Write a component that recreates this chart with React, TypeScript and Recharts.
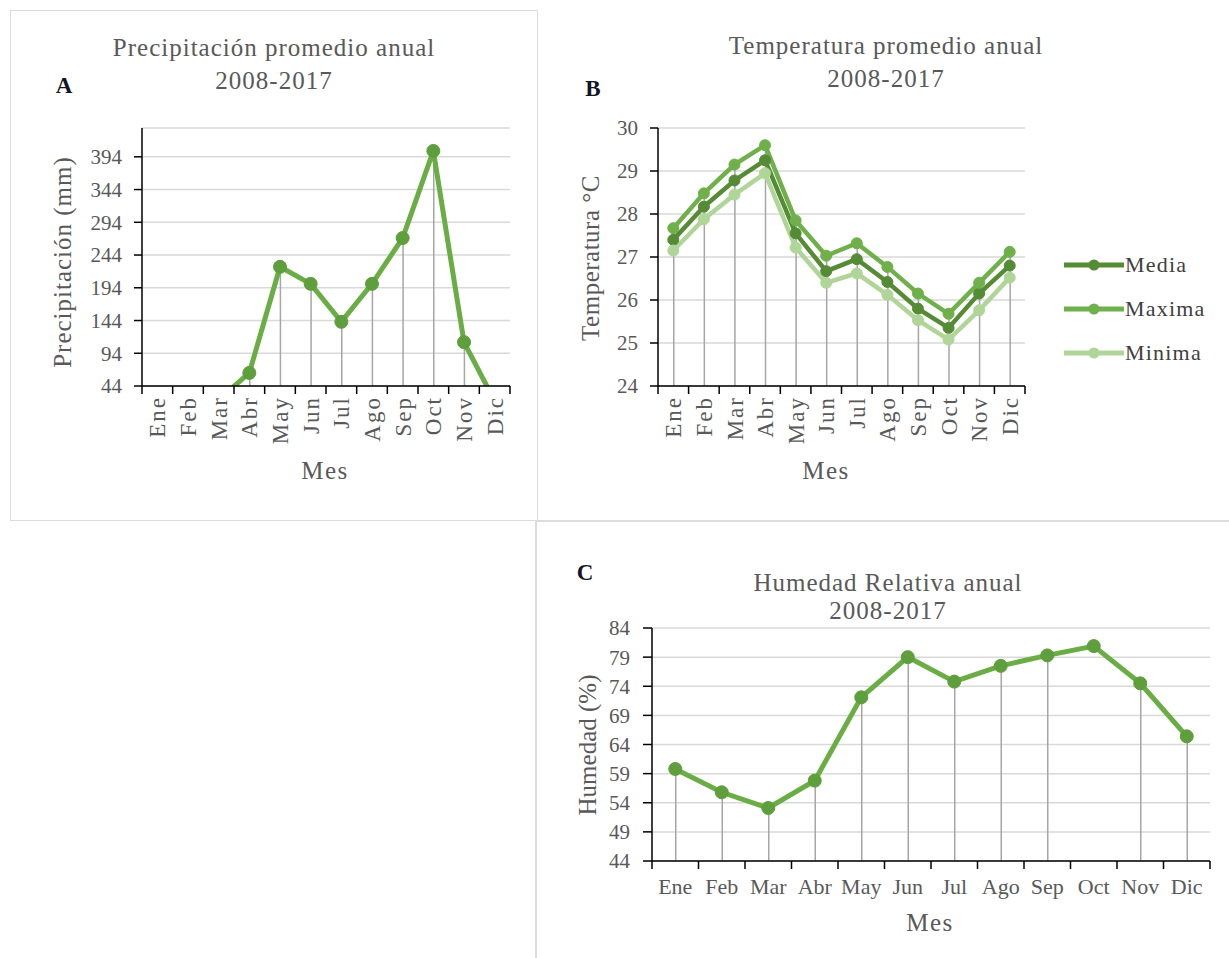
import React from 'react';
import { ComposedChart, Line, Bar, XAxis, YAxis, CartesianGrid } from 'recharts';

// ---------- data ----------
const months = ['Ene', 'Feb', 'Mar', 'Abr', 'May', 'Jun', 'Jul', 'Ago', 'Sep', 'Oct', 'Nov', 'Dic'];

const precipitacion = [15, 12, 23, 64, 226, 200, 142, 200, 270, 403, 111, 21];
const precipTicks = [44, 94, 144, 194, 244, 294, 344, 394];
const precipMax = 438;

const tempMedia = [27.4, 28.17, 28.78, 29.25, 27.55, 26.67, 26.95, 26.42, 25.8, 25.35, 26.15, 26.8];
const tempMaxima = [27.67, 28.48, 29.15, 29.6, 27.85, 27.03, 27.32, 26.77, 26.15, 25.68, 26.4, 27.12];
const tempMinima = [27.15, 27.88, 28.45, 28.95, 27.22, 26.4, 26.62, 26.12, 25.53, 25.08, 25.76, 26.52];
const tempTicks = [24, 25, 26, 27, 28, 29, 30];

const humedad = [59.8, 55.8, 53.1, 57.8, 72.1, 79.0, 74.8, 77.5, 79.3, 80.9, 74.5, 65.4];
const humedadTicks = [44, 49, 54, 59, 64, 69, 74, 79, 84];
const humedadSinLinea = ['Oct'];

const tempSeries = [
  { key: 'media', name: 'Media', values: tempMedia, color: '#558b35' },
  { key: 'maxima', name: 'Maxima', values: tempMaxima, color: '#6fb04a' },
  { key: 'minima', name: 'Minima', values: tempMinima, color: '#b0d598' },
];

// ---------- derived tables ----------
const dataA = months.map((m, i) => ({
  mes: m,
  precip: precipitacion[i],
  caida: precipitacion[i] >= precipTicks[0] ? precipitacion[i] : null,
}));

const dataB = months.map((m, i) => {
  const row: any = { mes: m, caida: tempMaxima[i] };
  tempSeries.forEach((s) => (row[s.key] = s.values[i]));
  return row;
});

const dataC = months.map((m, i) => ({
  mes: m,
  hum: humedad[i],
  caida: humedadSinLinea.includes(m) ? null : humedad[i],
}));

// ---------- styling ----------
const FONT = '"Liberation Serif", "Times New Roman", serif';
const TEXT = '#595959';
const GRID = '#d9d9d9';
const DROP = '#a6a6a6';
const LINE_GREEN = '#6aad45';
const DOT_GREEN = '#5e9e3c';

function MonthTick(props: any) {
  const { x, y, payload, band, rotated } = props;
  const half = band / 2;
  const idx = months.indexOf(payload.value);
  const isLast = idx === months.length - 1;
  return (
    <g>
      <line x1={x - half} x2={x - half} y1={y} y2={y + 8} stroke="#000" strokeWidth={1.5} />
      {isLast && <line x1={x + half} x2={x + half} y1={y} y2={y + 8} stroke="#000" strokeWidth={1.5} />}
      {rotated ? (
        <text
          transform={`translate(${x},${y + 10}) rotate(-90)`}
          textAnchor="end"
          dy="0.35em"
          fill={TEXT}
          fontSize={23}
          fontFamily={FONT}
          letterSpacing={2}
        >
          {payload.value}
        </text>
      ) : (
        <text x={x} y={y + 33} textAnchor="middle" fill={TEXT} fontSize={22} fontFamily={FONT}>
          {payload.value}
        </text>
      )}
    </g>
  );
}

const yTickStyle = { fill: TEXT, fontSize: 21, fontFamily: FONT };
const axisLineStyle = { stroke: '#000', strokeWidth: 1.5 };

function CenterText({ x, y, size = 25, children, bold = false, color = TEXT, spacing = 1, rotate = false }: any) {
  return (
    <div
      style={{
        position: 'absolute',
        left: x,
        top: y,
        transform: `translate(-50%, -50%)${rotate ? ' rotate(-90deg)' : ''}`,
        whiteSpace: 'nowrap',
        fontFamily: FONT,
        fontSize: size,
        fontWeight: bold ? 'bold' : 'normal',
        color,
        letterSpacing: spacing,
        lineHeight: 1,
      }}
    >
      {children}
    </div>
  );
}

// layout constants
const A = { w: 537, h: 520, m: { top: 128, right: 27, bottom: 44, left: 82 } };
const B = { left: 537, w: 692, h: 520, m: { top: 128, right: 204, bottom: 44, left: 61 } };
const C = { left: 537, top: 521, w: 692, h: 437, m: { top: 107, right: 19, bottom: 57, left: 55 } };
const YW = 60;
const bandOf = (c: any) => (c.w - c.m.left - c.m.right - YW) / months.length;

export default function App() {
  const bandA = bandOf(A);
  const bandB = bandOf(B);
  const bandC = bandOf(C);
  return (
    <div
      style={{
        position: 'absolute',
        left: 0,
        top: 0,
        width: 1229,
        height: 958,
        background: '#fff',
        overflow: 'hidden',
      }}
    >
      {/* borders */}
      <div style={{ position: 'absolute', left: 10, top: 10, width: 526, height: 509, border: '1.5px solid #dcdcdc' }} />
      <div style={{ position: 'absolute', left: 536, top: 520, width: 693, height: 0, borderTop: '2px solid #dcdcdc' }} />
      <div style={{ position: 'absolute', left: 535, top: 520, width: 0, height: 438, borderLeft: '2px solid #dcdcdc' }} />

      {/* Panel A */}
      <div style={{ position: 'absolute', left: 0, top: 0 }}>
        <ComposedChart width={A.w} height={A.h} data={dataA} margin={A.m}>
          <CartesianGrid vertical={false} stroke={GRID} strokeWidth={1.5} />
          <XAxis
            dataKey="mes"
            interval={0}
            height={90}
            tickSize={0}
            tickMargin={0}
            tickLine={false}
            axisLine={axisLineStyle}
            tick={(p: any) => <MonthTick {...p} band={bandA} rotated />}
          />
          <YAxis
            type="number"
            width={YW}
            domain={[precipTicks[0], precipMax]}
            ticks={precipTicks}
            interval={0}
            allowDataOverflow
            tickSize={8}
            tickMargin={12}
            tickLine={axisLineStyle}
            axisLine={axisLineStyle}
            tick={yTickStyle}
          />
          <Bar dataKey="caida" barSize={1.5} fill={DROP} isAnimationActive={false} />
          <Line
            type="linear"
            dataKey="precip"
            stroke={LINE_GREEN}
            strokeWidth={5}
            dot={{ r: 6.5, fill: DOT_GREEN, stroke: DOT_GREEN, strokeWidth: 1 }}
            activeDot={false}
            isAnimationActive={false}
          />
        </ComposedChart>
      </div>
      <CenterText x={274} y={47}>Precipitación promedio anual</CenterText>
      <CenterText x={274} y={80}>2008-2017</CenterText>
      <CenterText x={64} y={85} size={23} bold color="#141428" spacing={0}>A</CenterText>
      <CenterText x={62} y={262} rotate>Precipitación (mm)</CenterText>
      <CenterText x={325} y={470} spacing={1.5}>Mes</CenterText>

      {/* Panel B */}
      <div style={{ position: 'absolute', left: B.left, top: 0 }}>
        <ComposedChart width={B.w} height={B.h} data={dataB} margin={B.m}>
          <CartesianGrid vertical={false} stroke={GRID} strokeWidth={1.5} />
          <XAxis
            dataKey="mes"
            interval={0}
            height={90}
            tickSize={0}
            tickMargin={0}
            tickLine={false}
            axisLine={axisLineStyle}
            tick={(p: any) => <MonthTick {...p} band={bandB} rotated />}
          />
          <YAxis
            type="number"
            width={YW}
            domain={[tempTicks[0], tempTicks[tempTicks.length - 1]]}
            ticks={tempTicks}
            interval={0}
            tickSize={8}
            tickMargin={12}
            tickLine={axisLineStyle}
            axisLine={axisLineStyle}
            tick={yTickStyle}
          />
          {tempSeries.map((s) => (
            <Line
              key={s.key}
              type="linear"
              dataKey={s.key}
              name={s.name}
              stroke={s.color}
              strokeWidth={4.5}
              dot={{ r: 5.5, fill: s.color, stroke: s.color, strokeWidth: 1 }}
              activeDot={false}
              isAnimationActive={false}
            />
          ))}
          <Bar dataKey="caida" barSize={1.5} fill={DROP} isAnimationActive={false} />
        </ComposedChart>
      </div>
      <CenterText x={886} y={45}>Temperatura promedio anual</CenterText>
      <CenterText x={886} y={78}>2008-2017</CenterText>
      <CenterText x={593} y={88} size={23} bold color="#141428" spacing={0}>B</CenterText>
      <CenterText x={590} y={258} rotate spacing={0.5}>Temperatura °C</CenterText>
      <CenterText x={826} y={470} spacing={1.5}>Mes</CenterText>

      {/* Legend B */}
      {tempSeries.map((s, i) => (
        <div
          key={s.key}
          style={{ position: 'absolute', left: 1064, top: 253 + i * 44, height: 24, display: 'flex', alignItems: 'center' }}
        >
          <svg width={60} height={14} style={{ display: 'block' }}>
            <line x1={0} x2={60} y1={7} y2={7} stroke={s.color} strokeWidth={5} />
            <circle cx={30} cy={7} r={5.5} fill={s.color} />
          </svg>
          <span style={{ fontFamily: FONT, fontSize: 22, color: '#404040', letterSpacing: 1.2, marginLeft: 1 }}>
            {s.name}
          </span>
        </div>
      ))}

      {/* Panel C */}
      <div style={{ position: 'absolute', left: C.left, top: C.top }}>
        <ComposedChart width={C.w} height={C.h} data={dataC} margin={C.m}>
          <CartesianGrid vertical={false} stroke={GRID} strokeWidth={1.5} />
          <XAxis
            dataKey="mes"
            interval={0}
            height={40}
            tickSize={0}
            tickMargin={0}
            tickLine={false}
            axisLine={axisLineStyle}
            tick={(p: any) => <MonthTick {...p} band={bandC} />}
          />
          <YAxis
            type="number"
            width={YW}
            domain={[humedadTicks[0], humedadTicks[humedadTicks.length - 1]]}
            ticks={humedadTicks}
            interval={0}
            tickSize={9}
            tickMargin={13}
            tickLine={axisLineStyle}
            axisLine={axisLineStyle}
            tick={yTickStyle}
          />
          <Bar dataKey="caida" barSize={1.5} fill={DROP} isAnimationActive={false} />
          <Line
            type="linear"
            dataKey="hum"
            stroke={LINE_GREEN}
            strokeWidth={5}
            dot={{ r: 6.5, fill: DOT_GREEN, stroke: DOT_GREEN, strokeWidth: 1 }}
            activeDot={false}
            isAnimationActive={false}
          />
        </ComposedChart>
      </div>
      <CenterText x={888} y={582}>Humedad Relativa anual</CenterText>
      <CenterText x={888} y={610}>2008-2017</CenterText>
      <CenterText x={585} y={572} size={23} bold color="#141428" spacing={0}>C</CenterText>
      <CenterText x={587} y={745} rotate spacing={0}>Humedad (%)</CenterText>
      <CenterText x={930} y={922} spacing={1.5}>Mes</CenterText>
    </div>
  );
}
